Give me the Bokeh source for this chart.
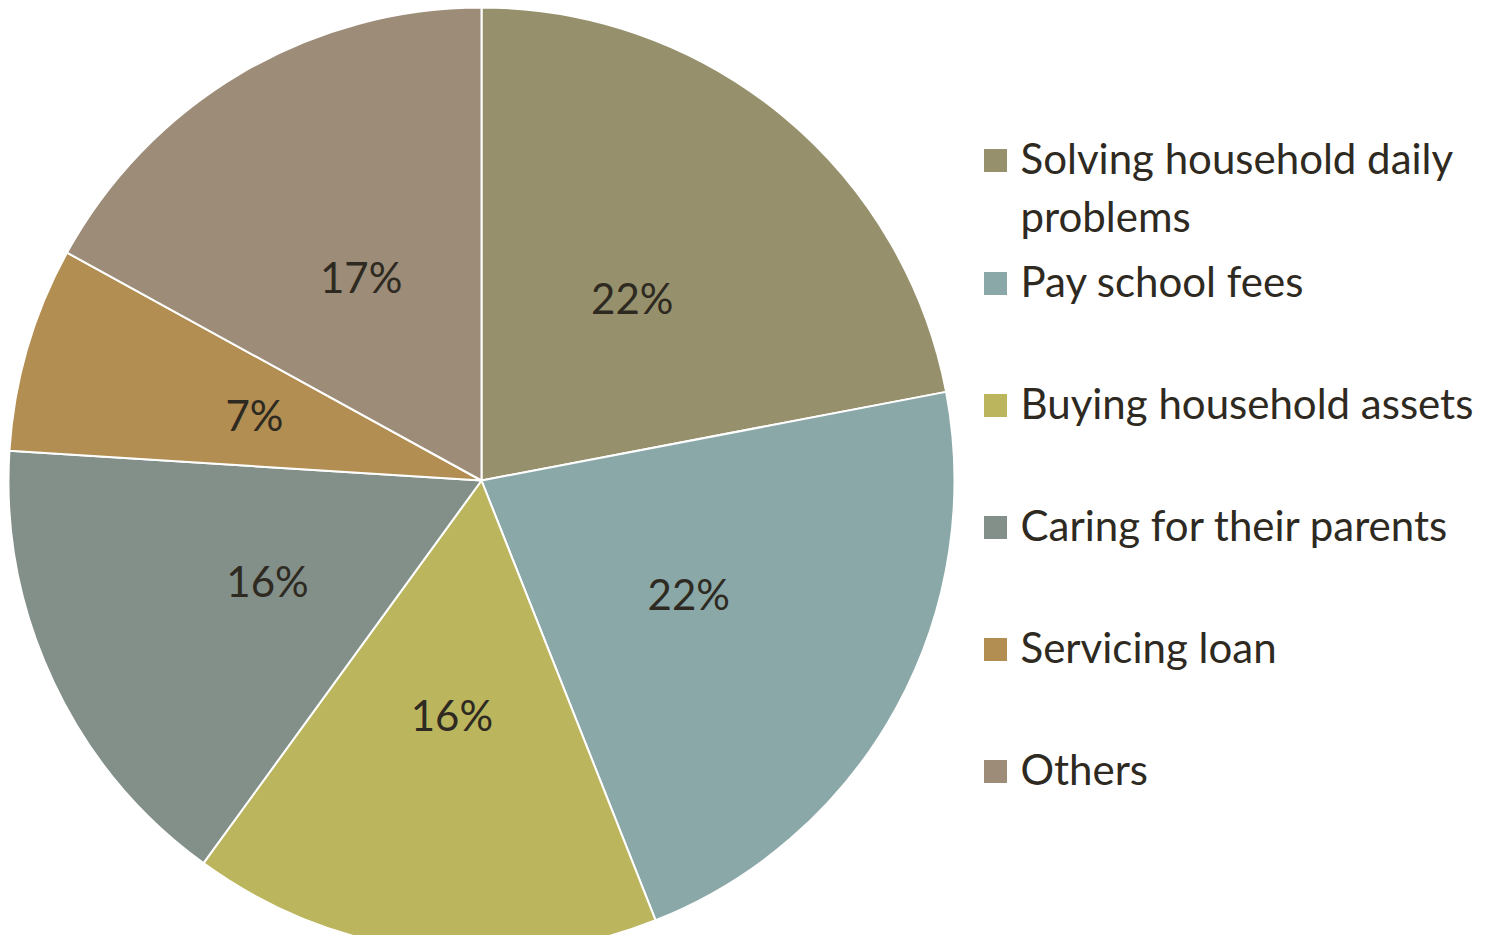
import math
from bokeh.plotting import figure
from bokeh.models import ColumnDataSource
from bokeh.core.properties import value
from bokeh.embed import file_html
from bokeh.resources import INLINE

categories = ["Solving household daily\nproblems", "Pay school fees", "Buying household assets",
              "Caring for their parents", "Servicing loan", "Others"]
shares = [22, 22, 16, 16, 7, 17]
labels = ["22%", "22%", "16%", "16%", "7%", "17%"]
colors = ["#96916C", "#8BA8A8", "#BBB55E", "#838F89", "#B28E52", "#9C8C78"]

W, H = 1490, 935
cx, cy, R = 481, H - 480, 473
FONT = "Lato"
TXT = "#2E2A21"

p = figure(width=W, height=H, x_range=(0, W), y_range=(0, H),
           output_backend="svg", toolbar_location=None, min_border=0)
p.axis.visible = False
p.grid.visible = False
p.outline_line_color = None

total = sum(shares)
starts, ends, lx, ly = [], [], [], []
acc = 0.0
for s in shares:
    t0 = acc / total * 2 * math.pi
    acc += s
    t1 = acc / total * 2 * math.pi
    starts.append(math.pi / 2 - t1)
    ends.append(math.pi / 2 - t0)
    tm = (t0 + t1) / 2
    lx.append(cx + 0.5 * R * math.sin(tm))
    ly.append(cy + 0.5 * R * math.cos(tm))

src = ColumnDataSource(dict(start=starts, end=ends, color=colors, lx=lx, ly=ly, lab=labels))
p.wedge(x=cx, y=cy, radius=R, start_angle="start", end_angle="end", fill_color="color",
        line_color="white", line_width=2, source=src)
p.text(x="lx", y="ly", text="lab", source=src, text_align="center", text_baseline="middle",
       text_font=value(FONT), text_font_size="42px", text_color=TXT)

# legend
row_y = [160, 283, 405, 527, 649, 771]
sq_x = 995
line_gap = 58
leg = ColumnDataSource(dict(x=[sq_x] * 6, y=[H - yy for yy in row_y], color=colors))
p.rect(x="x", y="y", width=23, height=23, fill_color="color", line_color=None, source=leg)

tx, ty, tl = [], [], []
for yy, cat in zip(row_y, categories):
    for k, line in enumerate(cat.split("\n")):
        tx.append(1020)
        ty.append(H - (yy - 3 + k * line_gap))
        tl.append(line)
p.text(x=tx, y=ty, text=tl, text_align="left", text_baseline="alphabetic",
       text_font=value(FONT), text_font_size="42px", text_color=TXT)

open("out.html", "w").write(file_html(p, INLINE))
